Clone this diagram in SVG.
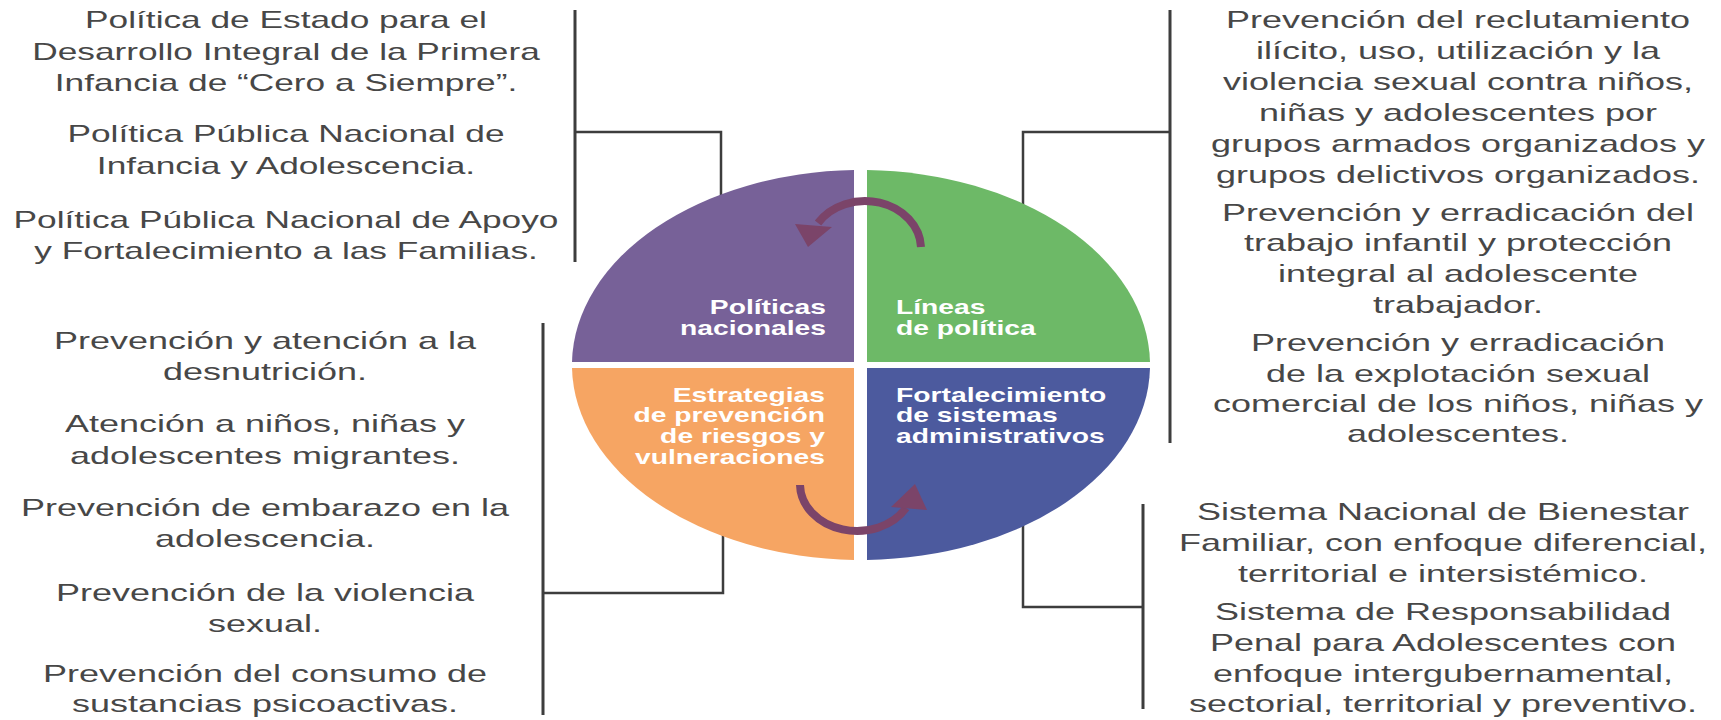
<svg xmlns="http://www.w3.org/2000/svg" width="1721" height="720" viewBox="0 0 1721 720">
<style>
.t{font-family:"Liberation Sans",Arial,sans-serif;font-size:24px;fill:#474747;text-anchor:middle}
.c{font-family:"Liberation Sans",Arial,sans-serif;font-size:19.5px;font-weight:bold;fill:#fff}
.ln{stroke:#3d3d3d;stroke-width:2.5;fill:none}
.lv{stroke:#3d3d3d;stroke-width:3;fill:none}
.arc{stroke:#7b4469;stroke-width:8;fill:none}
.ah{fill:#7b4469}
</style>
<rect width="1721" height="720" fill="#fff"/>
<g id="connectors">
<line class="lv" x1="575" y1="10" x2="575" y2="262"/>
<polyline class="ln" points="575,132 721,132 721,196"/>
<line class="lv" x1="543" y1="323" x2="543" y2="715"/>
<polyline class="ln" points="543,593 723,593 723,534"/>
<line class="lv" x1="1170" y1="10" x2="1170" y2="443"/>
<polyline class="ln" points="1170,132 1023,132 1023,206"/>
<line class="lv" x1="1143" y1="504" x2="1143" y2="709"/>
<polyline class="ln" points="1143,607 1023,607 1023,524"/>
</g>
<g id="quad-politicas">
<path d="M854 362 V170.1 A289 195 0 0 0 572 362 Z" fill="#776198"/>
<g transform="translate(826 0) scale(1.45 1)"><text class="c" x="0" y="314" text-anchor="end">Políticas</text><text class="c" x="0" y="335" text-anchor="end">nacionales</text></g>
</g>
<g id="quad-lineas">
<path d="M867 362 V170.1 A289 195 0 0 1 1150 362 Z" fill="#6db967"/>
<g transform="translate(896 0) scale(1.45 1)"><text class="c" x="0" y="314">Líneas</text><text class="c" x="0" y="335">de política</text></g>
</g>
<g id="quad-estrategias">
<path d="M854 368 V559.9 A289 195 0 0 1 572 368 Z" fill="#f6a563"/>
<g transform="translate(825 0) scale(1.45 1)"><text class="c" x="0" y="402" text-anchor="end">Estrategias</text><text class="c" x="0" y="422" text-anchor="end">de prevención</text><text class="c" x="0" y="443" text-anchor="end">de riesgos y</text><text class="c" x="0" y="464" text-anchor="end">vulneraciones</text></g>
</g>
<g id="quad-fortalecimiento">
<path d="M867 368 V559.9 A289 195 0 0 0 1150 368 Z" fill="#4c5a9e"/>
<g transform="translate(896 0) scale(1.45 1)"><text class="c" x="0" y="402">Fortalecimiento</text><text class="c" x="0" y="422">de sistemas</text><text class="c" x="0" y="443">administrativos</text></g>
</g>
<g id="cycle-arrows">
<path class="arc" d="M921 247 A56 48 0 0 0 818 223"/>
<polygon class="ah" points="795,224 832,227 808,247"/>
<path class="arc" d="M800 485 A57 47 0 0 0 906 508"/>
<polygon class="ah" points="891,507 927,510 915,484"/>
</g>
<g id="list-politicas" transform="translate(286 0) scale(1.47 1)">
<text class="t" x="0" y="28">Política de Estado para el</text>
<text class="t" x="0" y="60">Desarrollo Integral de la Primera</text>
<text class="t" x="0" y="91">Infancia de “Cero a Siempre”.</text>
<text class="t" x="0" y="142">Política Pública Nacional de</text>
<text class="t" x="0" y="174">Infancia y Adolescencia.</text>
<text class="t" x="0" y="228">Política Pública Nacional de Apoyo</text>
<text class="t" x="0" y="259">y Fortalecimiento a las Familias.</text>
</g>
<g id="list-estrategias" transform="translate(265 0) scale(1.5 1)">
<text class="t" x="0" y="349">Prevención y atención a la</text>
<text class="t" x="0" y="380">desnutrición.</text>
<text class="t" x="0" y="432">Atención a niños, niñas y</text>
<text class="t" x="0" y="464">adolescentes migrantes.</text>
<text class="t" x="0" y="516">Prevención de embarazo en la</text>
<text class="t" x="0" y="547">adolescencia.</text>
<text class="t" x="0" y="601">Prevención de la violencia</text>
<text class="t" x="0" y="632">sexual.</text>
<text class="t" x="0" y="682">Prevención del consumo de</text>
<text class="t" x="0" y="712">sustancias psicoactivas.</text>
</g>
<g id="list-lineas" transform="translate(1458 0) scale(1.5 1)">
<text class="t" x="0" y="28">Prevención del reclutamiento</text>
<text class="t" x="0" y="59">ilícito, uso, utilización y la</text>
<text class="t" x="0" y="90">violencia sexual contra niños,</text>
<text class="t" x="0" y="121">niñas y adolescentes por</text>
<text class="t" x="0" y="152">grupos armados organizados y</text>
<text class="t" x="0" y="183">grupos delictivos organizados.</text>
<text class="t" x="0" y="221">Prevención y erradicación del</text>
<text class="t" x="0" y="251">trabajo infantil y protección</text>
<text class="t" x="0" y="282">integral al adolescente</text>
<text class="t" x="0" y="313">trabajador.</text>
<text class="t" x="0" y="351">Prevención y erradicación</text>
<text class="t" x="0" y="382">de la explotación sexual</text>
<text class="t" x="0" y="412">comercial de los niños, niñas y</text>
<text class="t" x="0" y="442">adolescentes.</text>
</g>
<g id="list-sistemas" transform="translate(1443 0) scale(1.5 1)">
<text class="t" x="0" y="520">Sistema Nacional de Bienestar</text>
<text class="t" x="0" y="551">Familiar, con enfoque diferencial,</text>
<text class="t" x="0" y="582">territorial e intersistémico.</text>
<text class="t" x="0" y="620">Sistema de Responsabilidad</text>
<text class="t" x="0" y="651">Penal para Adolescentes con</text>
<text class="t" x="0" y="682">enfoque intergubernamental,</text>
<text class="t" x="0" y="712">sectorial, territorial y preventivo.</text>
</g>
</svg>
